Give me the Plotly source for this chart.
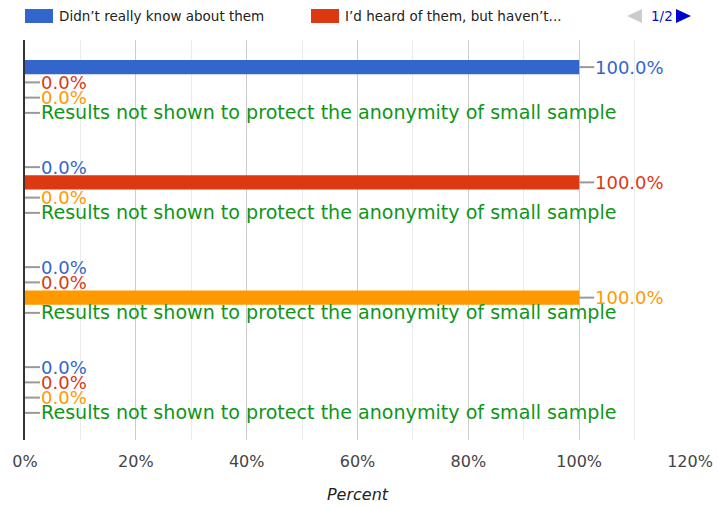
import plotly.graph_objects as go

# ---- data ----
categories = ["Group 1", "Group 2", "Group 3", "Group 4"]
series_names = [
    "Didn't really know about them",
    "I'd heard of them, but haven't used them",
    "Series 3",
    "Results suppressed",
]
blue_vals = [100, 0, 0, 0]
red_vals = [0, 100, 0, 0]
orange_vals = [0, 0, 100, 0]
green_vals = [None, None, None, None]
suppressed_text = "Results not shown to protect the anonymity of small sample"
x_ticks = [0, 20, 40, 60, 80, 100, 120]
legend_labels = ["Didn\u2019t really know about them", "I\u2019d heard of them, but haven\u2019t..."]

colors = ["#3366cc", "#dc3912", "#ff9900", "#109618"]
all_vals = [blue_vals, red_vals, orange_vals, green_vals]

FONT = "DejaVu Sans"

bargap = 0.39
n_series = len(all_vals)
slot = (1 - bargap) / n_series
ypos = list(range(len(categories)))

fig = go.Figure()
for name, vals, col in zip(series_names, all_vals, colors):
    fig.add_trace(go.Bar(
        y=ypos, x=[v if v is not None else 0 for v in vals], name=name,
        orientation="h", marker=dict(color=col, line=dict(width=0)),
        showlegend=False, hoverinfo="skip",
    ))

annotations = []
shapes = []
for i, (vals, col) in enumerate(zip(all_vals, colors)):
    off = -(1 - bargap) / 2 + (i + 0.5) * slot
    for j, v in enumerate(vals):
        xv = v if v is not None else 0
        txt = f"{v:.1f}%" if v is not None else suppressed_text
        yy = j + off
        shapes.append(dict(type="line", xref="x", yref="y", xsizemode="pixel", xanchor=xv,
                           x0=0, x1=15, y0=yy, y1=yy, line=dict(color="#999999", width=2)))
        annotations.append(dict(x=xv, y=yy, xref="x", yref="y", text=txt, showarrow=False,
                                xanchor="left", yanchor="middle", xshift=14,
                                font=dict(family=FONT, size=18 if v is not None else 19.1, color=col)))

# legend (manual, Google-style)
leg_x = [25, 311]
for k, (lx, lab) in enumerate(zip(leg_x, legend_labels)):
    shapes.append(dict(type="rect", xref="paper", yref="paper", xsizemode="pixel", ysizemode="pixel",
                       xanchor=0, yanchor=1, x0=lx - 25, x1=lx - 25 + 28, y0=40 - 9, y1=40 - 23,
                       fillcolor=colors[k], line=dict(width=0)))
    annotations.append(dict(x=0, y=1, xref="paper", yref="paper", text=lab, showarrow=False,
                            xanchor="left", yanchor="middle", xshift=lx - 25 + 32, yshift=40 - 16,
                            font=dict(family=FONT, size=13.5, color="#222222")))
# pagination arrows
shapes.append(dict(type="path", xref="paper", yref="paper", xsizemode="pixel", ysizemode="pixel",
                   xanchor=0, yanchor=1, path="M 602,24 L 617,31 L 617,17 Z",
                   fillcolor="#cccccc", line=dict(width=0)))
shapes.append(dict(type="path", xref="paper", yref="paper", xsizemode="pixel", ysizemode="pixel",
                   xanchor=0, yanchor=1, path="M 666,24 L 651,31 L 651,17 Z",
                   fillcolor="#0000cc", line=dict(width=0)))
annotations.append(dict(x=0, y=1, xref="paper", yref="paper", text="1/2", showarrow=False,
                        xanchor="left", yanchor="middle", xshift=624, yshift=24,
                        font=dict(family=FONT, size=13.5, color="#0011cc")))

fig.update_layout(
    width=718, height=508,
    margin=dict(l=25, r=28, t=40, b=68, autoexpand=False),
    paper_bgcolor="white", plot_bgcolor="white",
    barmode="group", bargap=bargap, bargroupgap=0.08,
    showlegend=False,
    xaxis=dict(range=[0, 120], tickvals=x_ticks, ticktext=[f"{t}%" for t in x_ticks],
               showgrid=True, gridcolor="#cccccc", gridwidth=1, zeroline=False, automargin=False,
               minor=dict(dtick=10, showgrid=True, gridcolor="#ebebeb", gridwidth=1),
               tickfont=dict(family=FONT, size=16, color="#444444"), ticks="", ticklabelstandoff=10,
               title=dict(text="<i>Percent</i>", font=dict(family=FONT, size=16, color="#222222"), standoff=18)),
    yaxis=dict(range=[len(categories) - 0.5, -0.5], showticklabels=False, showgrid=False, automargin=False,
               zeroline=False, showline=True, linecolor="#333333", linewidth=2, ticks=""),
    annotations=annotations, shapes=shapes,
)

fig.write_html("out.html", post_script="document.body.style.margin='0';",
               config={"displayModeBar": False})
